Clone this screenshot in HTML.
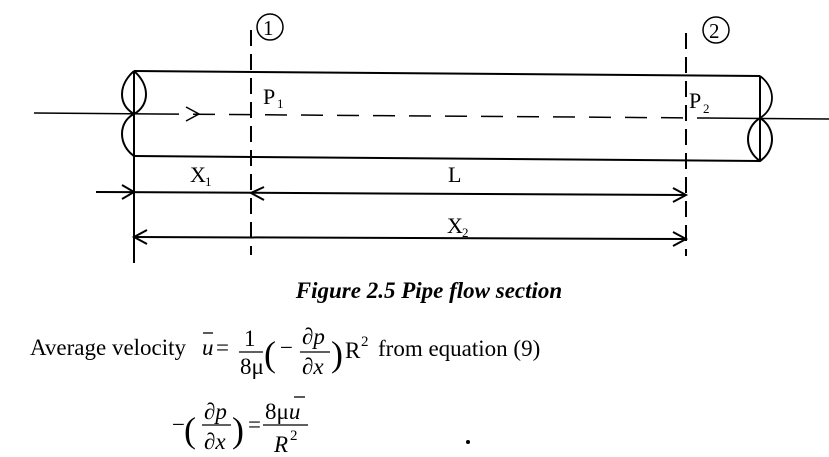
<!DOCTYPE html>
<html><head><meta charset="utf-8"><style>
html,body{margin:0;padding:0;background:#fff;}
svg{display:block;}
text{font-family:"Liberation Serif",serif;fill:#000;}
</style></head><body>
<svg width="829" height="457" viewBox="0 0 829 457" xmlns="http://www.w3.org/2000/svg">
<g stroke="#000" fill="none" stroke-width="2">
 <line x1="134" y1="71" x2="760" y2="76"/>
 <line x1="134" y1="156" x2="760" y2="161"/>
 <line x1="134" y1="71" x2="134" y2="263"/>
 <line x1="760" y1="76" x2="760" y2="161"/>
 <path d="M134 71 C118 85 118 105 134 114 C150 105 150 85 134 71"/>
 <path d="M134 114 C118 122 118 145 134 156"/>
 <path d="M760 76 C776 88 776 108 760 118" stroke-width="1.8"/>
 <path d="M760 118 C744 128 744 150 760 161 C776 150 776 128 760 118"/>
 <line x1="34" y1="113" x2="157" y2="114" stroke-width="1.5"/>
 <line x1="157" y1="114" x2="705" y2="118" stroke-width="1.5" stroke-dasharray="22,14"/>
 <path d="M186 107 L199 114 L186 121" stroke-width="1.5"/>
 <line x1="705" y1="118" x2="829" y2="119" stroke-width="1.5"/>
 <line x1="251" y1="30" x2="251" y2="255" stroke-dasharray="16,8"/>
 <line x1="686" y1="33" x2="686" y2="256" stroke-dasharray="16,8"/>
 <circle cx="270" cy="27" r="13" stroke-width="1.5"/>
 <circle cx="716" cy="30" r="13" stroke-width="1.5"/>
 <line x1="96" y1="192" x2="686" y2="195"/>
 <path d="M122 185 L134 192 L122 199"/>
 <path d="M264 187 L251 193 L264 200"/>
 <path d="M673 188 L686 195 L673 202"/>
 <line x1="134" y1="237" x2="686" y2="239"/>
 <path d="M147 230 L134 237 L147 244"/>
 <path d="M673 232 L686 239 L673 246"/>
</g>
<g font-size="22">
 <text x="263" y="35" font-size="21">1</text>
 <text x="709" y="38" font-size="21">2</text>
 <text x="263" y="104">P</text><text x="277" y="108" font-size="13">1</text>
 <text x="689" y="108">P</text><text x="703" y="113" font-size="13">2</text>
 <text x="190" y="182">X</text><text x="205" y="186" font-size="13">1</text>
 <text x="448" y="182">L</text>
 <text x="447" y="233">X</text><text x="462" y="237" font-size="13">2</text>
</g>
<text x="429" y="298" font-size="23" font-weight="bold" font-style="italic" text-anchor="middle">Figure 2.5 Pipe flow section</text>
<g font-size="23">
 <text x="30" y="355">Average velocity</text>
 <text x="202" y="355" font-style="italic">u</text>
 <line x1="203" y1="333" x2="213" y2="333" stroke="#000" stroke-width="1.3"/>
 <text x="216" y="355">=</text>
 <text x="244" y="346">1</text>
 <line x1="239" y1="352" x2="263" y2="352" stroke="#000" stroke-width="1.2"/>
 <text x="240" y="374">8μ</text>
 <text x="264" y="366" font-size="36">(</text>
 <text x="280" y="355">−</text>
 <text x="302" y="344" font-style="italic">∂p</text>
 <line x1="300" y1="352" x2="330" y2="352" stroke="#000" stroke-width="1.2"/>
 <text x="302" y="374" font-style="italic">∂x</text>
 <text x="331" y="366" font-size="36">)</text>
 <text x="345" y="358">R</text><text x="361" y="346" font-size="15">2</text>
 <text x="378" y="356">from equation (9)</text>

 <text x="172" y="432">−</text>
 <text x="184" y="442" font-size="36">(</text>
 <text x="204" y="419" font-style="italic">∂p</text>
 <line x1="202" y1="425" x2="231" y2="425" stroke="#000" stroke-width="1.2"/>
 <text x="204" y="449" font-style="italic">∂x</text>
 <text x="232" y="442" font-size="36">)</text>
 <text x="248" y="432">=</text>
 <text x="265" y="419">8μ<tspan font-style="italic">u</tspan></text>
 <line x1="294" y1="397" x2="305" y2="397" stroke="#000" stroke-width="1.3"/>
 <line x1="263" y1="425" x2="308" y2="425" stroke="#000" stroke-width="1.2"/>
 <text x="274" y="452" font-style="italic">R</text><text x="290" y="440" font-size="15">2</text>
</g>
<circle cx="468" cy="442" r="2" fill="#000"/>
</svg>
</body></html>
